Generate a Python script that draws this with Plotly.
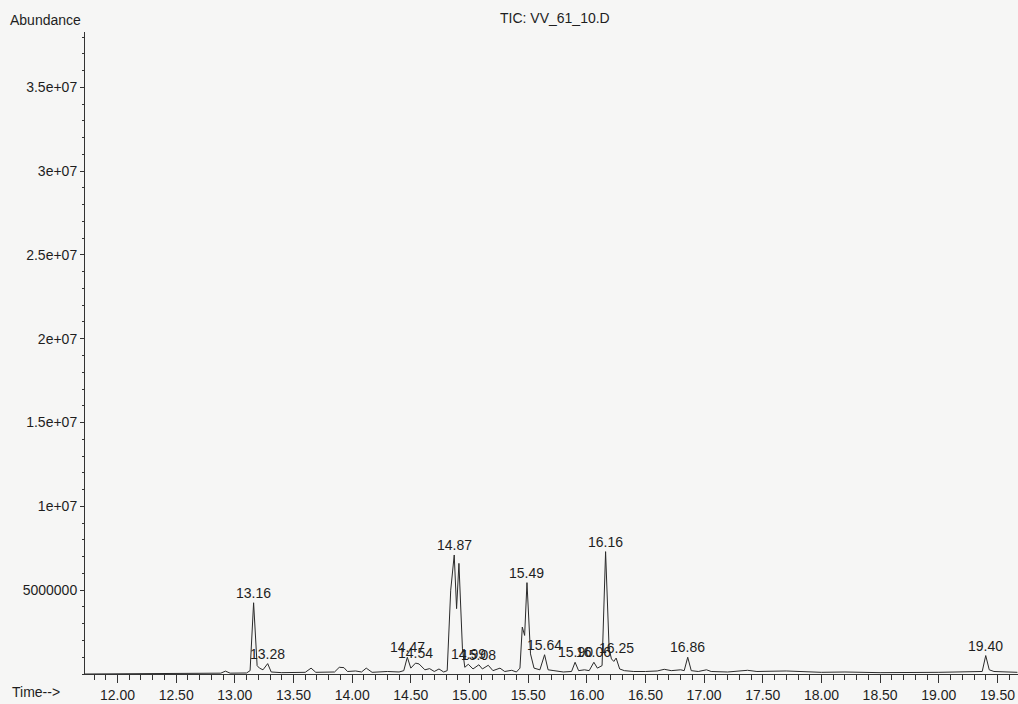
import plotly.graph_objects as go

# ---- data (time in min, abundance in millions) ----
time_min = [
    11.72, 12.80, 12.88, 12.92, 12.96, 13.10, 13.13, 13.16, 13.19, 13.21,
    13.24, 13.28, 13.31, 13.40, 13.60, 13.65, 13.69, 13.85, 13.89, 13.93,
    13.96, 14.03, 14.08, 14.12, 14.17, 14.30, 14.40, 14.44, 14.47, 14.50,
    14.54, 14.57, 14.62, 14.66, 14.70, 14.74, 14.78, 14.81, 14.84, 14.87,
    14.89, 14.91, 14.94, 14.96, 14.99, 15.03, 15.08, 15.11, 15.16, 15.20,
    15.26, 15.30, 15.36, 15.40, 15.43, 15.45, 15.47, 15.49, 15.52, 15.55,
    15.60, 15.64, 15.67, 15.72, 15.80, 15.87, 15.90, 15.93, 15.98, 16.02,
    16.06, 16.09, 16.13, 16.16, 16.19, 16.21, 16.23, 16.25, 16.28, 16.32,
    16.40, 16.50, 16.60, 16.66, 16.72, 16.80, 16.83, 16.86, 16.89, 16.95,
    17.02, 17.06, 17.20, 17.37, 17.45, 17.70, 18.00, 18.20, 18.50, 19.00,
    19.30, 19.37, 19.40, 19.43, 19.47, 19.67,
]
abundance_millions = [
    0.00, 0.02, 0.05, 0.17, 0.05, 0.06, 0.20, 4.25, 0.50, 0.35,
    0.25, 0.62, 0.12, 0.08, 0.10, 0.35, 0.10, 0.12, 0.40, 0.38,
    0.15, 0.18, 0.12, 0.35, 0.10, 0.15, 0.12, 0.20, 1.00, 0.35,
    0.65, 0.60, 0.25, 0.32, 0.15, 0.30, 0.12, 0.20, 5.00, 7.10,
    3.90, 6.60, 1.50, 0.40, 0.58, 0.30, 0.55, 0.30, 0.52, 0.20,
    0.35, 0.15, 0.22, 0.12, 0.35, 2.80, 2.30, 5.45, 1.20, 0.35,
    0.25, 1.15, 0.25, 0.20, 0.12, 0.15, 0.70, 0.20, 0.25, 0.20,
    0.70, 0.35, 0.50, 7.30, 1.50, 0.90, 0.75, 0.95, 0.30, 0.20,
    0.15, 0.15, 0.18, 0.28, 0.20, 0.25, 0.20, 1.00, 0.20, 0.15,
    0.25, 0.15, 0.12, 0.22, 0.15, 0.18, 0.10, 0.12, 0.08, 0.10,
    0.12, 0.15, 1.10, 0.25, 0.15, 0.10,
]
peak_labels = ["13.16", "13.28", "14.47", "14.54", "14.87", "14.99", "15.08",
               "15.49", "15.64", "15.90", "16.06", "16.16", "16.25", "16.86", "19.40"]

ytick_vals = [5e6, 1e7, 1.5e7, 2e7, 2.5e7, 3e7, 3.5e7]
ytick_text = ["5000000", "1e+07", "1.5e+07", "2e+07", "2.5e+07", "3e+07", "3.5e+07"]

title_text = "TIC: VV_61_10.D"

abundance = [v * 1e6 for v in abundance_millions]

FONT = "Liberation Sans, Arial, sans-serif"
INK = "#1e1e1e"

fig = go.Figure()
fig.add_trace(go.Scatter(
    x=time_min, y=abundance, mode="lines",
    line=dict(color="#2a2a2a", width=1),
    hoverinfo="x+y", showlegend=False,
))

annotations = []
for lab in peak_labels:
    t = float(lab)
    # apex: highest data point within +-0.02 min of the label time
    cands = [(a, x) for x, a in zip(time_min, abundance) if abs(x - t) <= 0.021]
    a, x = max(cands)
    annotations.append(dict(
        x=t, y=a, xref="x", yref="y", text=lab, showarrow=False,
        yanchor="bottom", xanchor="center", yshift=0,
        font=dict(family=FONT, size=14, color=INK),
    ))

annotations.append(dict(
    x=-0.0825, y=1.019, xref="paper", yref="paper", xanchor="left", yanchor="middle",
    text="Abundance", showarrow=False, font=dict(family=FONT, size=14, color=INK),
))
annotations.append(dict(
    x=0.504, y=1.022, xref="paper", yref="paper", xanchor="center", yanchor="middle",
    text=title_text, showarrow=False, font=dict(family=FONT, size=14, color=INK),
))
annotations.append(dict(
    x=-0.080, y=-0.028, xref="paper", yref="paper", xanchor="left", yanchor="middle",
    text="Time-->", showarrow=False, font=dict(family=FONT, size=14, color=INK),
))

fig.update_layout(
    width=1018, height=704,
    margin=dict(l=85, r=0, t=32, b=30),
    paper_bgcolor="#f6f6f5", plot_bgcolor="#f6f6f5",
    font=dict(family=FONT, size=14, color=INK),
    annotations=annotations,
    xaxis=dict(
        range=[11.723, 19.675], tick0=12, dtick=0.5, tickformat=".2f",
        showgrid=False, zeroline=False, showline=True, linecolor="#333", linewidth=1,
        ticks="outside", ticklen=8, tickcolor="#333", tickwidth=1,
        minor=dict(dtick=0.1, tick0=12, ticks="outside", ticklen=5, tickcolor="#333", showgrid=False),
        tickfont=dict(family=FONT, size=14, color=INK),
    ),
    yaxis=dict(
        range=[0, 3.83e7], tickvals=ytick_vals, ticktext=ytick_text,
        showgrid=False, zeroline=False, showline=True, linecolor="#333", linewidth=1,
        ticks="outside", ticklen=4, tickcolor="#333", tickwidth=1,
        minor=dict(dtick=1e6, tick0=0, ticks="outside", ticklen=2, tickcolor="#333", showgrid=False),
        tickfont=dict(family=FONT, size=14, color=INK),
    ),
)

fig.write_html(
    "out.html",
    config={"displayModeBar": False},
    post_script="document.body.style.margin='0';document.body.style.padding='0';"
                "document.documentElement.style.background='#f6f6f5';",
)
